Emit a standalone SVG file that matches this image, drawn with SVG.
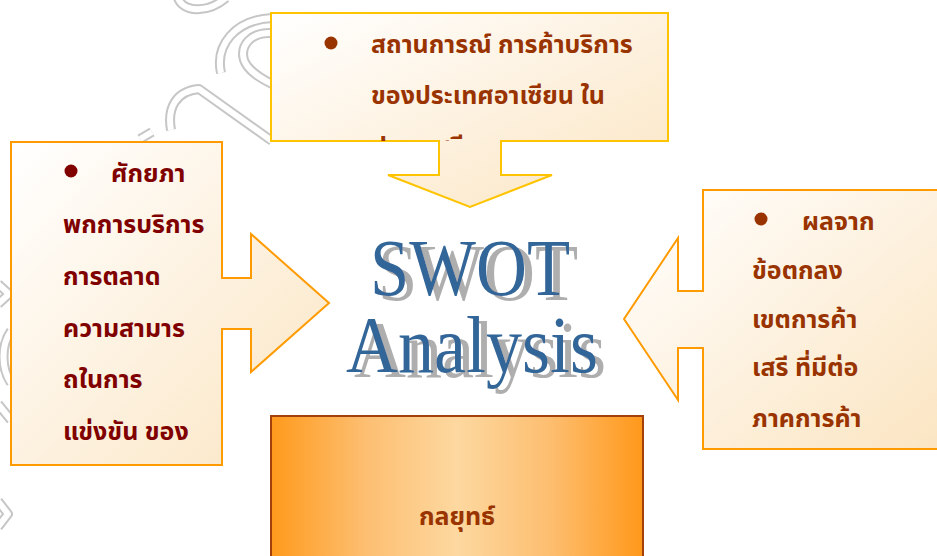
<svg xmlns="http://www.w3.org/2000/svg" width="937" height="556" viewBox="0 0 937 556">
  <defs>
    <linearGradient id="callFill" x1="0" y1="0" x2="1" y2="1">
      <stop offset="0" stop-color="#FFFFFF"/>
      <stop offset="1" stop-color="#FBE5C2"/>
    </linearGradient>
    <linearGradient id="boxFill" x1="0" y1="0" x2="1" y2="0">
      <stop offset="0" stop-color="#FF9A1C"/>
      <stop offset="0.25" stop-color="#FDBE70"/>
      <stop offset="0.5" stop-color="#FDD8A0"/>
      <stop offset="0.75" stop-color="#FDBE70"/>
      <stop offset="1" stop-color="#FF981A"/>
    </linearGradient>
    <clipPath id="topClip">
      <rect x="271" y="13" width="397" height="128"/>
    </clipPath>
    <filter id="grayShadow" x="-10%" y="-20%" width="130%" height="150%">
      <feFlood flood-color="#AEAEAE" result="g"/>
      <feComposite in="g" in2="SourceAlpha" operator="in" result="sh"/>
      <feOffset in="sh" dx="8" dy="5" result="off"/>
      <feMerge>
        <feMergeNode in="off"/>
        <feMergeNode in="SourceGraphic"/>
      </feMerge>
    </filter>
  </defs>
  <style>
    .wm { fill: none; stroke-linecap: butt; stroke-linejoin: round; }
    .wmo { stroke: #C6C6C6; stroke-width: 10; }
    .wmi { stroke: #FFFFFF; stroke-width: 6; }
    .call { fill: url(#callFill); stroke-width: 2; stroke-linejoin: miter; }
    .th { font-family: "Noto Sans Thai", "Noto Serif Thai", "TH Sarabun New", "Loma", "Garuda", "Tlwg Typo", "DejaVu Sans", sans-serif; font-weight: bold; font-size: 25px; }
    .red { fill: #800000; }
    .brown { fill: #993300; }
    .swot { font-family: "Liberation Serif", "Times New Roman", serif; font-size: 80px; text-anchor: middle; fill: #336699; }
  </style>

  <!-- background watermark -->
  <g id="watermark">
    <g class="wm wmo">
      <path id="wm1" d="M171,130 C167,108 176,91 199,89 L272,141"/>
      <path id="wm2" d="M221,73 C215,45 235,20 272,18"/>
      <path id="wm3" d="M272,33 C250,32 240,46 244,60 C248,71 260,78 272,84"/>
      <path id="wm4" d="M178,-2 C183,12 207,14 226,-2"/>
      <path id="wm5" d="M-2,284 L9,294 L-2,304"/>
      <path id="wm6" d="M11,331 C1,345 1,368 11,383"/>
      <path id="wm7" d="M-2,404 L11,420"/>
      <path id="wm8" d="M-2,501 L8,514 L-2,527"/>
      <path id="wm9" d="M140,139 L152,132"/>
    </g>
    <g class="wm wmi">
      <use href="#wm1"/><use href="#wm2"/><use href="#wm3"/><use href="#wm4"/>
      <use href="#wm5"/><use href="#wm6"/><use href="#wm7"/><use href="#wm8"/><use href="#wm9"/>
    </g>
  </g>

  <!-- top callout -->
  <g id="node-top">
    <path class="call" stroke="#FFC400" d="M271,13 H668 V141 H501 V175 H552 L470,207 L388,175 H439 V141 H271 Z"/>
    <circle cx="331" cy="43" r="6.5" class="brown"/>
    <g class="th brown" clip-path="url(#topClip)">
      <text x="371" y="53">สถานการณ์ การค้าบริการ</text>
      <text x="371" y="104">ของประเทศอาเซียน ใน</text>
      <text x="371" y="155">ประเทศจีน</text>
    </g>
  </g>

  <!-- left callout -->
  <g id="node-left">
    <path class="call" stroke="#FF9B00" d="M11,142 H222 V278 H251 V234 L329,303 L251,372 V329 H222 V465 H11 Z"/>
    <circle cx="71" cy="171" r="6.5" class="red"/>
    <g class="th red">
      <text x="111" y="182">ศักยภา</text>
      <text x="63" y="233">พกการบริการ</text>
      <text x="63" y="285">การตลาด</text>
      <text x="63" y="337">ความสามาร</text>
      <text x="63" y="388">ถในการ</text>
      <text x="63" y="440">แข่งขัน ของ</text>
    </g>
  </g>

  <!-- right callout -->
  <g id="node-right">
    <path class="call" stroke="#FF9B00" d="M703,190 H940 V449 H703 V348 H678 V400 L624,319 L678,238 V291 H703 Z"/>
    <circle cx="761" cy="219" r="6.5" class="brown"/>
    <g class="th brown">
      <text x="802" y="230">ผลจาก</text>
      <text x="752" y="279">ข้อตกลง</text>
      <text x="752" y="328">เขตการค้า</text>
      <text x="752" y="376">เสรี ที่มีต่อ</text>
      <text x="752" y="427">ภาคการค้า</text>
    </g>
  </g>

  <!-- centre title -->
  <g id="node-swot" filter="url(#grayShadow)">
    <text class="swot" x="470" y="295" textLength="200" lengthAdjust="spacingAndGlyphs">SWOT</text>
    <text class="swot" x="472" y="372" textLength="252" lengthAdjust="spacingAndGlyphs">Analysis</text>
  </g>

  <!-- bottom box -->
  <g id="node-strategy">
    <rect x="271" y="416" width="372" height="150" fill="url(#boxFill)" stroke="#A3410C" stroke-width="2"/>
    <text class="th brown" x="457" y="525" text-anchor="middle">กลยุทธ์</text>
  </g>

  <g id="connectors"></g>
</svg>
